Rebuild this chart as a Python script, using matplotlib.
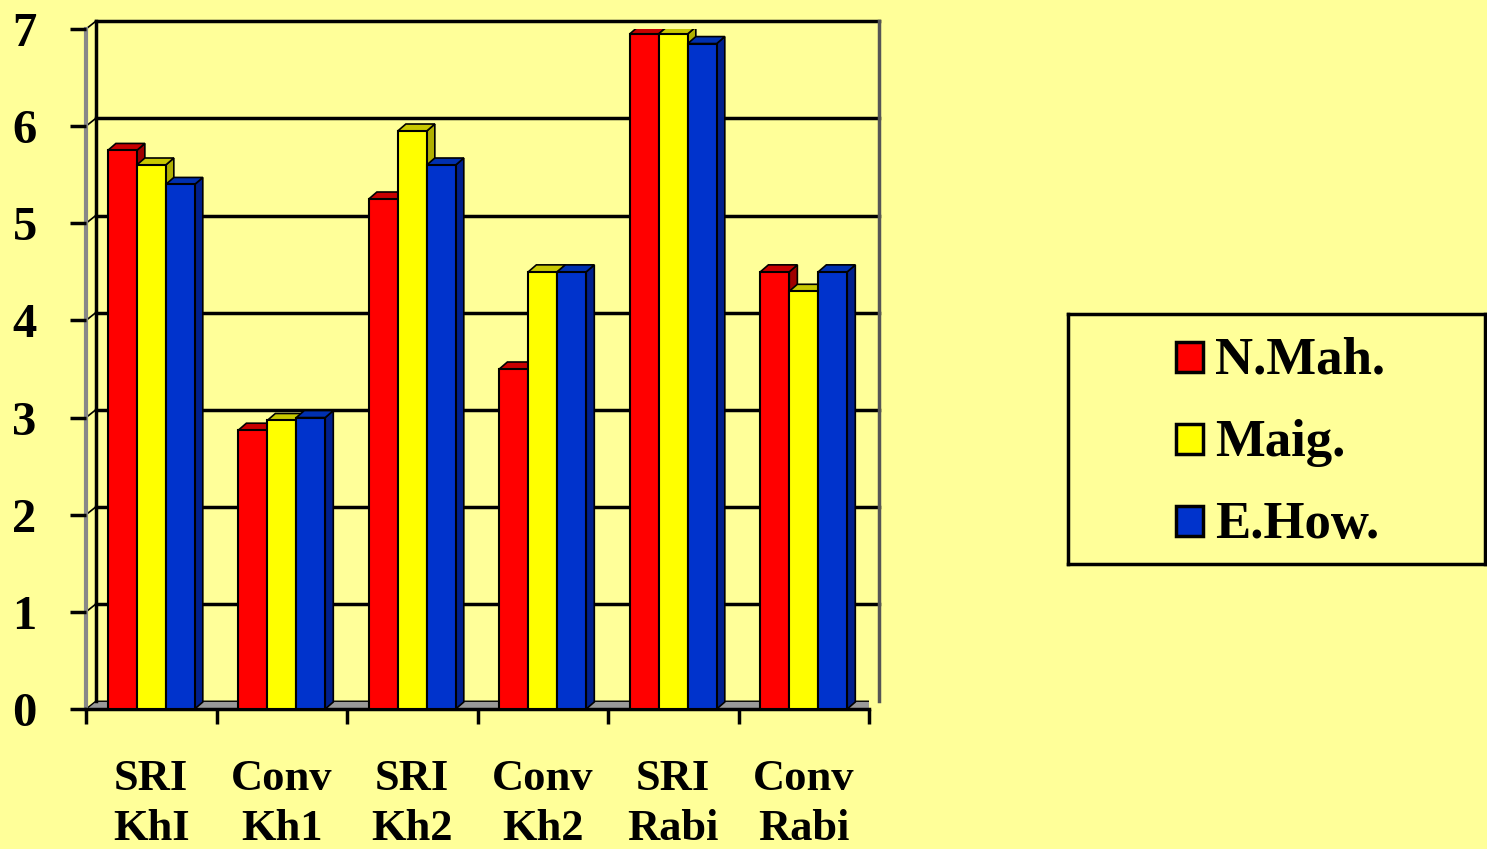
import matplotlib.pyplot as plt
from matplotlib.patches import Polygon, Rectangle

# data
categories = ["SRI\nKhI", "Conv\nKh1", "SRI\nKh2", "Conv\nKh2", "SRI\nRabi", "Conv\nRabi"]
series_names = ["N.Mah.", "Maig.", "E.How."]
n_mah = [5.75, 2.87, 5.25, 3.5, 6.95, 4.5]
maig = [5.6, 2.97, 5.95, 4.5, 6.95, 4.3]
e_how = [5.4, 3.0, 5.6, 4.5, 6.85, 4.5]
series = [n_mah, maig, e_how]

front_colors = ["#FF0000", "#FFFF00", "#0033CC"]
top_colors = ["#C80000", "#C8C800", "#0030B0"]
side_colors = ["#A00000", "#B0B000", "#00208C"]
bg = "#FFFF99"

plt.rcParams["font.family"] = ["Liberation Serif", "DejaVu Serif"]
plt.rcParams["font.weight"] = "bold"

fig = plt.figure(figsize=(14.87, 8.49), dpi=100, facecolor=bg)
ax = fig.add_axes([86 / 1487, 140 / 849, 783 / 1487, 680 / 849])
ax.set_facecolor("none")
ax.set_xlim(-0.5, 5.5)
ax.set_ylim(0, 7)
for s in ax.spines.values():
    s.set_visible(False)

# depth of the fake 3d effect
dx, dy = 0.075, 0.08
bdx, bdy = 0.062, 0.072
w = 0.222

# floor
ax.add_patch(Polygon([(-0.5, 0), (5.5, 0), (5.5 + dx, dy), (-0.5 + dx, dy)],
                     closed=True, facecolor="#999999", edgecolor="black", lw=1, zorder=1))

# back wall + gridlines
for v in range(1, 8):
    ax.plot([-0.5 + dx, 5.5 + dx], [v + dy, v + dy], color="black", lw=2.5, zorder=1, clip_on=False)
    ax.plot([-0.5, -0.5 + dx], [v, v + dy], color="black", lw=1.2, zorder=1, clip_on=False)
ax.plot([-0.5 + dx, -0.5 + dx], [dy, 7 + dy], color="black", lw=2.5, zorder=1, clip_on=False)
ax.plot([5.5 + dx, 5.5 + dx], [dy, 7 + dy], color="#555555", lw=2.5, zorder=1, clip_on=False)
ax.plot([-0.5, -0.5], [0, 7], color="#888888", lw=3, zorder=1, clip_on=False)
ax.plot([-0.5, 5.5], [0, 0], color="black", lw=2.5, zorder=2, clip_on=False)

# bars
for i in range(len(categories)):
    for j, vals in enumerate(series):
        h = vals[i]
        x0 = i - 1.5 * w + j * w
        z = 3 + j * 0.1
        ax.add_patch(Polygon([(x0 + w, 0), (x0 + w + bdx, bdy), (x0 + w + bdx, h + bdy), (x0 + w, h)],
                             closed=True, facecolor=side_colors[j], edgecolor="black", lw=1.2, zorder=z))
        ax.add_patch(Polygon([(x0, h), (x0 + w, h), (x0 + w + bdx, h + bdy), (x0 + bdx, h + bdy)],
                             closed=True, facecolor=top_colors[j], edgecolor="black", lw=1.2, zorder=z))
        ax.add_patch(Rectangle((x0, 0), w, h, facecolor=front_colors[j], edgecolor="black", lw=1.5, zorder=z))

# ticks
ax.set_yticks(range(0, 8))
ax.tick_params(axis="y", length=11.5, width=2.5, pad=24, labelsize=35, color="black")
ax.set_xticks(range(len(categories)))
ax.set_xticklabels(categories, fontsize=32, linespacing=1.32)
ax.tick_params(axis="x", which="major", length=0, pad=36)
ax.set_xticks([k - 0.5 for k in range(len(categories) + 1)], minor=True)
ax.tick_params(axis="x", which="minor", length=11, width=2.5, direction="out")

# legend box drawn by hand
lax = fig.add_axes([1068 / 1487, 285 / 849, 417 / 1487, 250 / 849])
lax.set_facecolor("none")
lax.set_xlim(0, 417)
lax.set_ylim(250, 0)
lax.set_xticks([])
lax.set_yticks([])
for s in lax.spines.values():
    s.set_linewidth(2.5)
    s.set_color("black")
for j, name in enumerate(series_names):
    yc = 43 + j * 82
    lax.add_patch(Rectangle((108, yc - 15), 27, 30, facecolor=front_colors[j], edgecolor="black", lw=2.5))
    lax.text(147, yc + 4, name, fontsize=38, va="center", ha="left")

fig.savefig("out.png", dpi=100, facecolor=bg)
